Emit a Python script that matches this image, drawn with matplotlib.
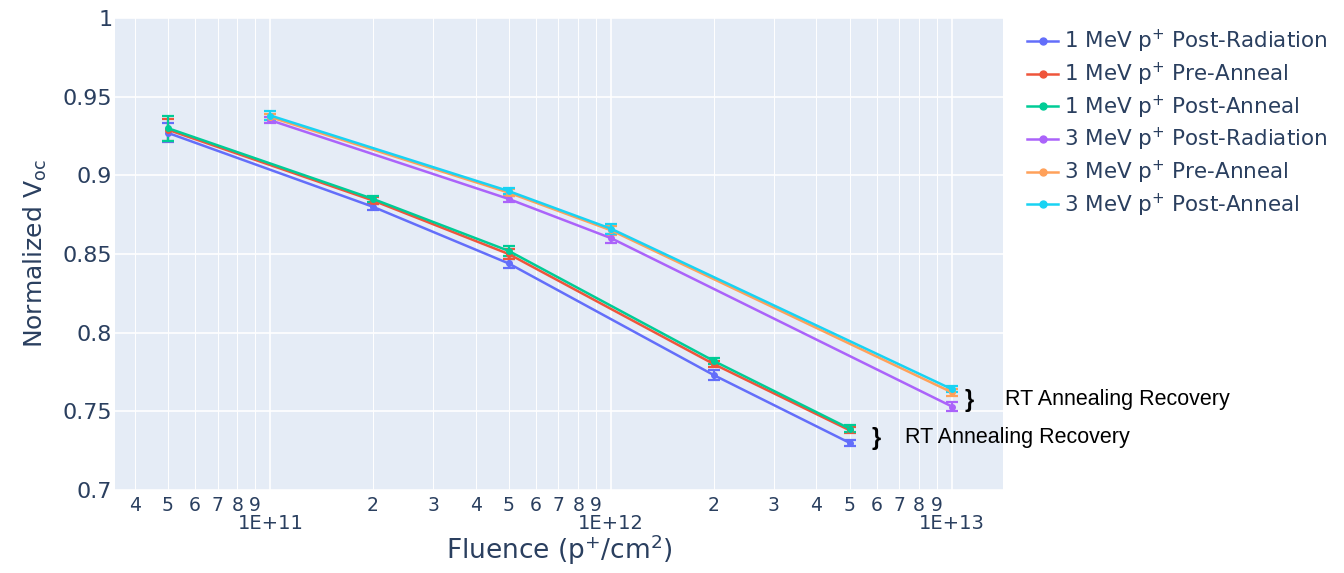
import numpy as np
import matplotlib
matplotlib.use("Agg")
import matplotlib.pyplot as plt
from matplotlib.ticker import FixedLocator, FuncFormatter

plt.rcParams['font.family'] = ['DejaVu Sans']
plt.rcParams['mathtext.fontset'] = 'dejavusans'

# fluence values (p+/cm2)
fluence_1mev = [5e10, 2e11, 5e11, 2e12, 5e12]
fluence_3mev = [1e11, 5e11, 1e12, 1e13]

# normalized Voc, 1 MeV
voc_1mev_post_rad = [0.927, 0.880, 0.844, 0.773, 0.730]
voc_1mev_pre_ann = [0.929, 0.884, 0.850, 0.780, 0.738]
voc_1mev_post_ann = [0.930, 0.885, 0.852, 0.782, 0.739]
err_1mev_post_rad = [0.006, 0.002, 0.003, 0.003, 0.002]
err_1mev_pre_ann = [0.007, 0.002, 0.003, 0.002, 0.002]
err_1mev_post_ann = [0.008, 0.002, 0.003, 0.002, 0.002]

# normalized Voc, 3 MeV
voc_3mev_post_rad = [0.935, 0.885, 0.860, 0.753]
voc_3mev_pre_ann = [0.937, 0.889, 0.865, 0.762]
voc_3mev_post_ann = [0.938, 0.890, 0.866, 0.764]
err_3mev_post_rad = [0.002, 0.002, 0.003, 0.003]
err_3mev_pre_ann = [0.002, 0.002, 0.003, 0.002]
err_3mev_post_ann = [0.003, 0.002, 0.003, 0.002]

labels = [
    "1 MeV p$^{+}$ Post-Radiation",
    "1 MeV p$^{+}$ Pre-Anneal",
    "1 MeV p$^{+}$ Post-Anneal",
    "3 MeV p$^{+}$ Post-Radiation",
    "3 MeV p$^{+}$ Pre-Anneal",
    "3 MeV p$^{+}$ Post-Anneal",
]
colors = ['#636EFA', '#EF553B', '#00CC96', '#AB63FA', '#FFA15A', '#19D3F3']

series = [
    (fluence_1mev, voc_1mev_post_rad, err_1mev_post_rad),
    (fluence_1mev, voc_1mev_pre_ann, err_1mev_pre_ann),
    (fluence_1mev, voc_1mev_post_ann, err_1mev_post_ann),
    (fluence_3mev, voc_3mev_post_rad, err_3mev_post_rad),
    (fluence_3mev, voc_3mev_pre_ann, err_3mev_pre_ann),
    (fluence_3mev, voc_3mev_post_ann, err_3mev_post_ann),
]

text_color = '#2a3f5f'

fig = plt.figure(figsize=(13.44, 5.73), dpi=100)
ax = fig.add_axes([115 / 1344, 83 / 573, 888 / 1344, 472 / 573])
ax.set_facecolor('#E5ECF6')

handles = []
for (x, y, e), lab, c in zip(series, labels, colors):
    ax.errorbar(x, y, yerr=e, color=c, lw=1.8, elinewidth=1.6,
                capsize=4.5, capthick=1.6, marker='o', ms=4, zorder=3)
    h, = ax.plot([], [], color=c, lw=1.8, marker='o', ms=5)
    handles.append(h)

ax.set_xscale('log')
ax.set_xlim(3.5e10, 1.41e13)
ax.set_ylim(0.7, 1.0)

major = [1e11, 1e12, 1e13]
minor = [m * 10 ** d for d in (10, 11, 12) for m in range(2, 10)]
minor = [v for v in minor if 3.5e10 < v < 1.41e13]
ax.xaxis.set_major_locator(FixedLocator(major))
ax.xaxis.set_minor_locator(FixedLocator(minor))
ax.xaxis.set_major_formatter(FuncFormatter(lambda v, p: "1E+%d" % round(np.log10(v))))
ax.xaxis.set_minor_formatter(FuncFormatter(lambda v, p: "%d" % round(v / 10 ** np.floor(np.log10(v) + 1e-9))))
ax.tick_params(axis='x', which='major', length=0, pad=17, labelsize=14, labelcolor=text_color)
ax.tick_params(axis='x', which='minor', length=0, pad=4, labelsize=13.5, labelcolor=text_color)

ax.set_yticks(np.arange(0.7, 1.0001, 0.05))
ax.yaxis.set_major_formatter(FuncFormatter(lambda v, p: "%g" % round(v, 2)))
ax.tick_params(axis='y', length=0, pad=2, labelsize=16, labelcolor=text_color)

ax.grid(True, which='major', color='white', lw=1.2)
ax.grid(True, which='minor', axis='x', color='white', lw=0.7)
ax.set_axisbelow(True)
for s in ax.spines.values():
    s.set_visible(False)

ax.set_xlabel("Fluence (p$^{+}$/cm$^{2}$)", fontsize=19, color=text_color, labelpad=0)
ax.set_ylabel("Normalized V$_{\\mathrm{oc}}$", fontsize=18, color=text_color, labelpad=10)

fig.legend(handles, labels, loc='upper left', bbox_to_anchor=(1027 / 1344, 1 - 28 / 573),
           frameon=False, fontsize=15.5, labelcolor=text_color, handlelength=1.45,
           handletextpad=0.25, labelspacing=0.25, borderaxespad=0, borderpad=0)

# annotations
fig.text(965 / 1344, 1 - 400 / 573, "}", fontsize=17, fontweight='bold', va='center',
         family='Liberation Sans')
fig.text(1005 / 1344, 1 - 399 / 573, "RT Annealing Recovery", fontsize=15.5, va='center',
         family='Liberation Sans')
fig.text(872 / 1344, 1 - 438 / 573, "}", fontsize=17, fontweight='bold', va='center',
         family='Liberation Sans')
fig.text(905 / 1344, 1 - 437 / 573, "RT Annealing Recovery", fontsize=15.5, va='center',
         family='Liberation Sans')

fig.savefig("out.png", dpi=100)
